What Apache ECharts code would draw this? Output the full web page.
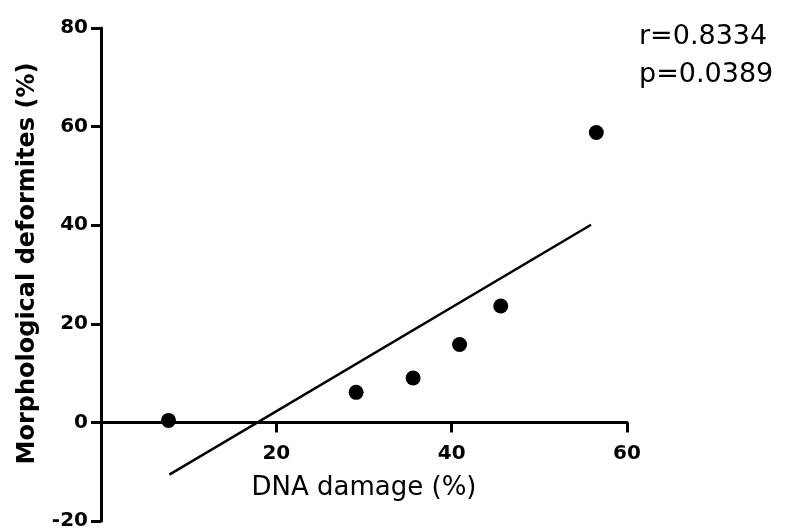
<!DOCTYPE html>
<html>
<head>
<meta charset="utf-8">
<script src="https://cdn.jsdelivr.net/npm/echarts@6/dist/echarts.min.js"></script>
<style>
  html, body { margin: 0; padding: 0; background: #fff; }
  #chart { width: 785px; height: 528px; }
</style>
</head>
<body>
<div id="chart"></div>
<script>
// DNA damage vs. morphological deformities, one point per sample
const dnaDamage = [7.7, 29.1, 35.6, 40.9, 45.6, 56.5];
const deformities = [0.4, 6.1, 9.0, 15.8, 23.6, 58.8];

// Linear regression line, drawn between its two end points
const fitX = [7.8, 55.9];
const fitY = [-10.6, 40.1];

const statsText = ['r=0.8334', 'p=0.0389'];

const xTitle = 'DNA damage (%)';
const yTitle = 'Morphological deformites (%)';

const points = dnaDamage.map((x, i) => [x, deformities[i]]);
const fitLine = fitX.map((x, i) => [x, fitY[i]]);

const chart = echarts.init(document.getElementById('chart'), null, { renderer: 'canvas' });

const axisStroke = { color: '#000', width: 3 };

// Plot area geometry
const plotLeft = 101, plotRight = 158, plotTop = 28, plotBottom = 7;
const yMin = -20, yMax = 80;
const plotHeight = 528 - plotTop - plotBottom;
// The x axis sits on y = 0: a second grid whose bottom edge lies on that line
const zeroFromBottom = plotBottom + plotHeight * (0 - yMin) / (yMax - yMin);

chart.setOption({
  animation: false,
  backgroundColor: '#fff',
  grid: [
    {
      left: plotLeft, right: plotRight, top: plotTop, bottom: plotBottom,
      containLabel: false, outerBoundsMode: 'none'
    },
    {
      left: plotLeft, right: plotRight, top: plotTop, bottom: zeroFromBottom,
      containLabel: false, outerBoundsMode: 'none'
    }
  ],
  xAxis: [
    {
      gridIndex: 0,
      type: 'value',
      min: 0, max: 60, interval: 20,
      show: false
    },
    {
      gridIndex: 1,
      type: 'value',
      min: 0, max: 60, interval: 20,
      position: 'bottom',
      axisLine: { onZero: false, lineStyle: axisStroke },
      axisTick: { show: true, inside: false, length: 10, lineStyle: axisStroke },
      axisLabel: {
        margin: 21,
        color: '#000',
        fontFamily: 'DejaVu Sans',
        fontWeight: 'bold',
        fontSize: 20,
        formatter: v => (v === 0 ? '' : String(v))
      },
      splitLine: { show: false },
      name: xTitle,
      nameLocation: 'middle',
      nameGap: 53,
      nameMoveOverlap: false,
      nameTextStyle: { color: '#000', fontFamily: 'DejaVu Sans', fontSize: 26 }
    }
  ],
  yAxis: [
    {
      gridIndex: 0,
      type: 'value',
      min: yMin, max: yMax, interval: 20,
      axisLine: { onZero: false, lineStyle: axisStroke },
      axisTick: { show: true, inside: false, length: 10, lineStyle: axisStroke },
      axisLabel: {
        margin: 13,
        color: '#000',
        fontFamily: 'DejaVu Sans',
        fontWeight: 'bold',
        fontSize: 20
      },
      splitLine: { show: false },
      name: yTitle,
      nameLocation: 'middle',
      nameGap: 61,
      nameMoveOverlap: false,
      nameTextStyle: {
        color: '#000', fontFamily: 'DejaVu Sans', fontWeight: 'bold', fontSize: 24,
        padding: [0, 0, 0, 22]
      }
    },
    {
      gridIndex: 1,
      type: 'value',
      min: 0, max: 80,
      show: false
    }
  ],
  series: [
    {
      type: 'line',
      xAxisIndex: 0, yAxisIndex: 0,
      data: fitLine,
      symbol: 'none',
      lineStyle: { color: '#000', width: 2.5 },
      z: 2
    },
    {
      type: 'scatter',
      xAxisIndex: 0, yAxisIndex: 0,
      data: points,
      symbol: 'circle',
      symbolSize: 15,
      itemStyle: { color: '#000', opacity: 1 },
      z: 3
    }
  ],
  graphic: [
    {
      type: 'text',
      left: 639, top: 23,
      style: { text: statsText[0], fill: '#000', font: '27px "DejaVu Sans"' }
    },
    {
      type: 'text',
      left: 639, top: 61,
      style: { text: statsText[1], fill: '#000', font: '27px "DejaVu Sans"' }
    }
  ]
});
</script>
</body>
</html>
